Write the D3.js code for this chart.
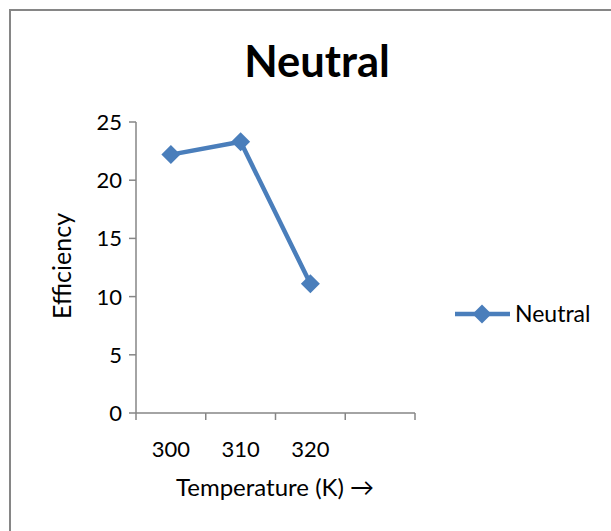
<!DOCTYPE html>
<html><head><meta charset="utf-8">
<script src="https://cdn.jsdelivr.net/npm/d3@7"></script>
<style>body{margin:0;background:#fff}svg{display:block}text{font-family:Lato,"Open Sans",sans-serif;fill:#000}</style>
</head><body>
<svg id="c" width="611" height="531"></svg>
<script>
const categories = ["300", "310", "320", ""];
const values = [22.2, 23.3, 11.1];
const yTicks = [0, 5, 10, 15, 20, 25];
const seriesName = "Neutral";
const title = "Neutral";
const xTitle = "Temperature (K) \u2192";
const yTitle = "Efficiency";

const svg = d3.select("#c");
const color = "#4a7ebb";

svg.append("rect").attr("x", 10).attr("y", 10).attr("width", 620).attr("height", 540)
  .attr("fill", "#fff").attr("stroke", "#868686").attr("stroke-width", 2);

const x = d3.scaleBand().domain(categories.map((c, i) => i)).range([136, 415]).padding(0);
const y = d3.scaleLinear().domain([0, 25]).range([413, 122]);

svg.append("text").attr("x", 317).attr("y", 77).attr("text-anchor", "middle")
  .attr("font-size", 43.5).attr("font-weight", "bold").text(title);

// y axis
const gy = svg.append("g");
gy.append("line").attr("x1", 136).attr("x2", 136).attr("y1", y(25)).attr("y2", y(0)).attr("stroke", "#868686").attr("stroke-width", 1.5);
yTicks.forEach(t => {
  gy.append("line").attr("x1", 129).attr("x2", 136).attr("y1", y(t)).attr("y2", y(t)).attr("stroke", "#868686").attr("stroke-width", 1.5);
  gy.append("text").attr("x", 122).attr("y", y(t)).attr("dy", "0.36em").attr("text-anchor", "end").attr("font-size", 22).text(t);
});

// x axis
const gx = svg.append("g");
gx.append("line").attr("x1", 136).attr("x2", 415).attr("y1", y(0)).attr("y2", y(0)).attr("stroke", "#868686").attr("stroke-width", 1.5);
const edges = categories.map((c, i) => x(i)).concat([x(categories.length - 1) + x.bandwidth()]);
edges.forEach(e => {
  gx.append("line").attr("x1", e).attr("x2", e).attr("y1", y(0)).attr("y2", y(0) + 7).attr("stroke", "#868686").attr("stroke-width", 1.5);
});
categories.forEach((c, i) => {
  gx.append("text").attr("x", x(i) + x.bandwidth() / 2).attr("y", 457).attr("text-anchor", "middle").attr("font-size", 22).text(c);
});

svg.append("text").attr("x", 275).attr("y", 496).attr("text-anchor", "middle").attr("font-size", 24).text(xTitle);
svg.append("text").attr("transform", "translate(71,266) rotate(-90)").attr("text-anchor", "middle").attr("font-size", 25).text(yTitle);

const line = d3.line().x((d, i) => x(i) + x.bandwidth() / 2).y(d => y(d));
svg.append("path").datum(values).attr("d", line).attr("fill", "none").attr("stroke", color).attr("stroke-width", 4.5).attr("stroke-linejoin", "round");
const diamond = d3.symbol().type(d3.symbolDiamond2).size(230);
svg.selectAll(".pt").data(values).enter().append("path")
  .attr("transform", (d, i) => `translate(${x(i) + x.bandwidth() / 2},${y(d)})`)
  .attr("d", diamond).attr("fill", color);

// legend
svg.append("line").attr("x1", 455).attr("x2", 510).attr("y1", 314).attr("y2", 314).attr("stroke", color).attr("stroke-width", 4.5);
svg.append("path").attr("transform", "translate(482,314)").attr("d", diamond).attr("fill", color);
svg.append("text").attr("x", 515).attr("y", 314).attr("dy", "0.36em").attr("font-size", 23).text(seriesName);
</script>
</body></html>
